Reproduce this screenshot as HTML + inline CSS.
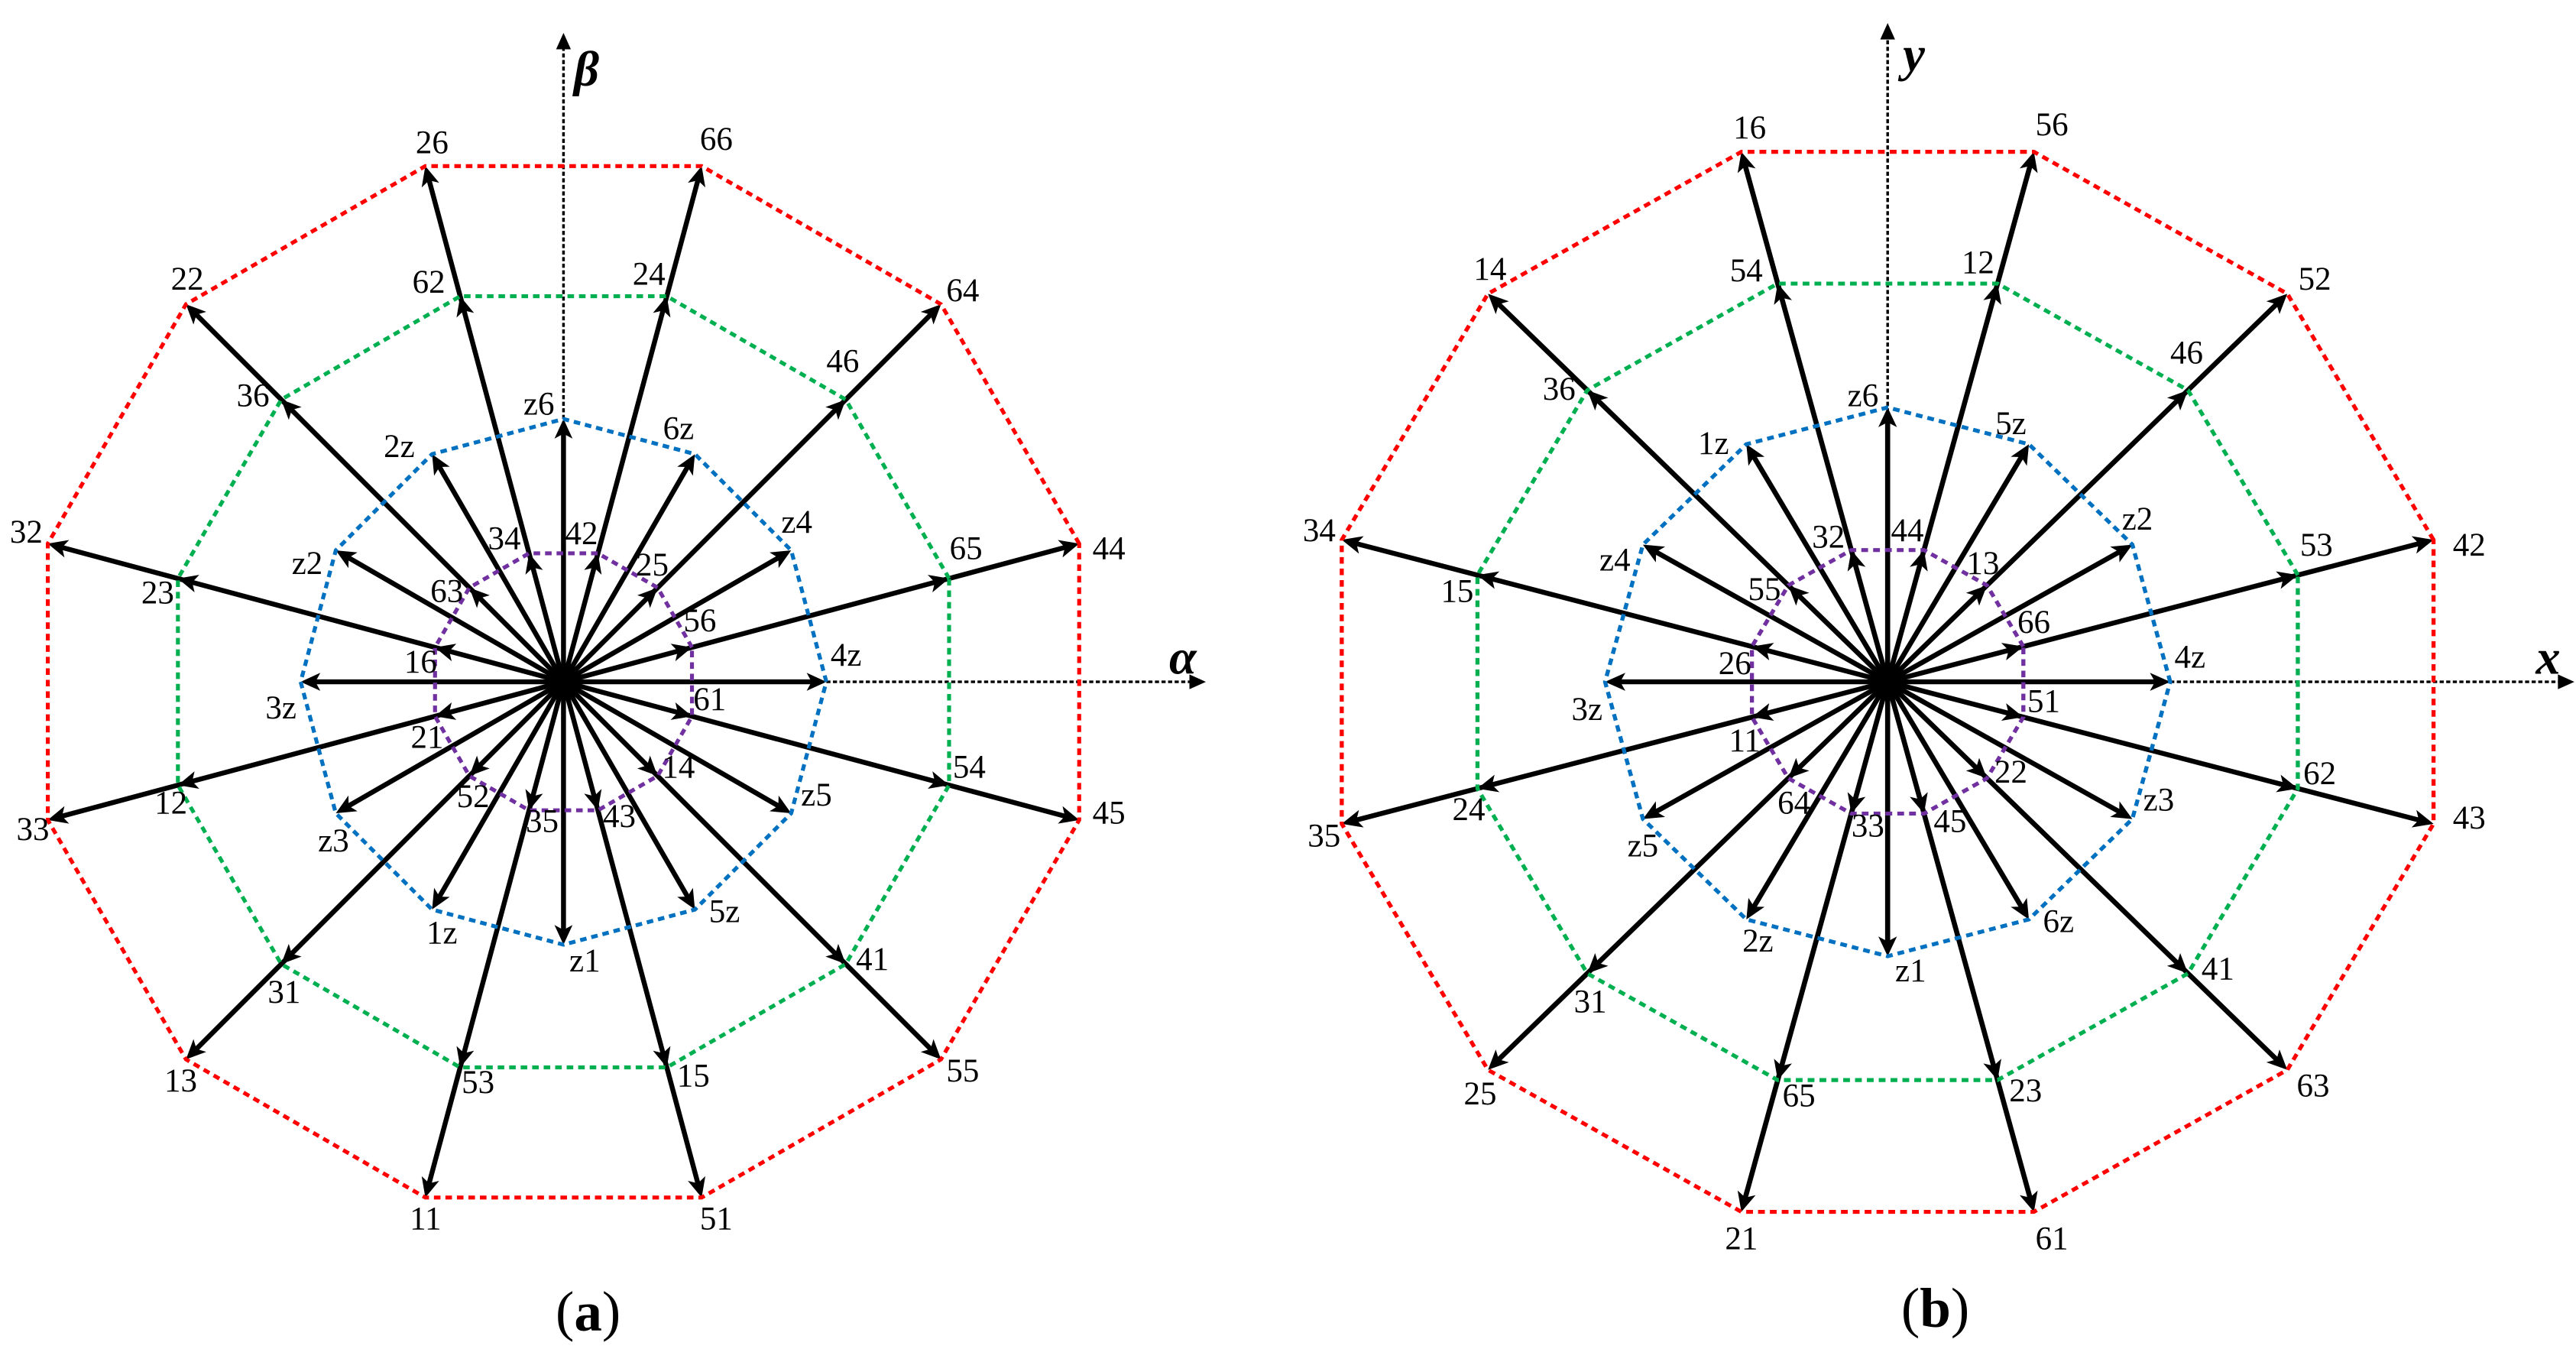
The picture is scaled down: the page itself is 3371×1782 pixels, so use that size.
<!DOCTYPE html>
<html><head><meta charset="utf-8"><style>
html,body{margin:0;padding:0;background:#fff}
svg{display:block}
text{font-family:"Liberation Serif",serif;font-size:20px;fill:#000}
.ax{font-weight:bold;font-style:italic;font-size:30px}
.cap{font-size:34px}
</style></head><body>
<svg width="3371" height="1782" viewBox="0 0 1568 829" preserveAspectRatio="none" xmlns="http://www.w3.org/2000/svg">
<defs>
<g id="la">
<line x1="0" y1="0" x2="319" y2="0" stroke="#000" stroke-width="3"/>
<path d="M325,0 l-12,-5.5 l3,5.5 l-3,5.5z"/>
<path d="M243,0 l-12,-5.5 l3,5.5 l-3,5.5z"/>
<path d="M81,0 l-12,-5.5 l3,5.5 l-3,5.5z"/>
</g>
<g id="sa">
<line x1="0" y1="0" x2="154" y2="0" stroke="#000" stroke-width="3"/>
<path d="M160,0 l-12,-5.5 l3,5.5 l-3,5.5z"/>
</g>
<g id="lb">
<line x1="0" y1="0" x2="328" y2="0" stroke="#000" stroke-width="3"/>
<path d="M334,0 l-12,-5.5 l3,5.5 l-3,5.5z"/>
<path d="M251,0 l-12,-5.5 l3,5.5 l-3,5.5z"/>
<path d="M83,0 l-12,-5.5 l3,5.5 l-3,5.5z"/>
</g>
<g id="sb">
<line x1="0" y1="0" x2="161" y2="0" stroke="#000" stroke-width="3"/>
<path d="M167,0 l-12,-5.5 l3,5.5 l-3,5.5z"/>
</g>
</defs>

<!-- ===== (a) ===== -->
<g>
<line x1="343" y1="415" x2="343" y2="28" stroke="#000" stroke-width="1.6" stroke-dasharray="2.5 1.5"/>
<path d="M343,20 l-4.5,10 l9,0z"/>
<line x1="343" y1="415" x2="725" y2="415" stroke="#000" stroke-width="1.6" stroke-dasharray="2.5 1.5"/>
<path d="M734,415 l-10,-4.5 l0,9z"/>
<g transform="translate(343,415)">
<use href="#la" transform="rotate(-15)"/><use href="#la" transform="rotate(-45)"/><use href="#la" transform="rotate(-75)"/>
<use href="#la" transform="rotate(-105)"/><use href="#la" transform="rotate(-135)"/><use href="#la" transform="rotate(-165)"/>
<use href="#la" transform="rotate(15)"/><use href="#la" transform="rotate(45)"/><use href="#la" transform="rotate(75)"/>
<use href="#la" transform="rotate(105)"/><use href="#la" transform="rotate(135)"/><use href="#la" transform="rotate(165)"/>
<use href="#sa" transform="rotate(0)"/><use href="#sa" transform="rotate(-30)"/><use href="#sa" transform="rotate(-60)"/>
<use href="#sa" transform="rotate(-90)"/><use href="#sa" transform="rotate(-120)"/><use href="#sa" transform="rotate(-150)"/>
<use href="#sa" transform="rotate(180)"/><use href="#sa" transform="rotate(30)"/><use href="#sa" transform="rotate(60)"/>
<use href="#sa" transform="rotate(90)"/><use href="#sa" transform="rotate(120)"/><use href="#sa" transform="rotate(150)"/>
<circle r="8" fill="#000"/>
<g fill="none" stroke-width="2.4" stroke-dasharray="4 3">
<polygon stroke="#ff0000" points="313.9,-84.1 229.8,-229.8 84.1,-313.9 -84.1,-313.9 -229.8,-229.8 -313.9,-84.1 -313.9,84.1 -229.8,229.8 -84.1,313.9 84.1,313.9 229.8,229.8 313.9,84.1"/>
<polygon stroke="#00b050" points="234.7,-62.9 171.8,-171.8 62.9,-234.7 -62.9,-234.7 -171.8,-171.8 -234.7,-62.9 -234.7,62.9 -171.8,171.8 -62.9,234.7 62.9,234.7 171.8,171.8 234.7,62.9"/>
<polygon stroke="#0070c0" points="160,0 138.6,-80 80,-138.6 0,-160 -80,-138.6 -138.6,-80 -160,0 -138.6,80 -80,138.6 0,160 80,138.6 138.6,80"/>
<polygon stroke="#7030a0" points="78.2,-21 57.3,-57.3 21,-78.2 -21,-78.2 -57.3,-57.3 -78.2,-21 -78.2,21 -57.3,57.3 -21,78.2 21,78.2 57.3,57.3 78.2,21"/>
</g>
</g>
<g text-anchor="middle" dominant-baseline="central">
<text x="263" y="87">26</text><text x="436" y="85">66</text><text x="114" y="170">22</text><text x="586" y="177">64</text>
<text x="261" y="172">62</text><text x="395" y="167">24</text><text x="154" y="241">36</text><text x="513" y="220">46</text>
<text x="328" y="246">z6</text><text x="243" y="272">2z</text><text x="413" y="261">6z</text>
<text x="16" y="324">32</text><text x="675" y="334">44</text><text x="588" y="334">65</text><text x="485" y="318">z4</text>
<text x="187" y="343">z2</text><text x="307" y="328">34</text><text x="354" y="325">42</text><text x="397" y="344">25</text>
<text x="272" y="360">63</text><text x="426" y="378">56</text><text x="96" y="361">23</text><text x="515" y="399">4z</text>
<text x="256" y="403">16</text><text x="171" y="431">3z</text><text x="432" y="426">61</text><text x="260" y="449">21</text>
<text x="413" y="467">14</text><text x="590" y="467">54</text><text x="497" y="484">z5</text><text x="104" y="489">12</text>
<text x="20" y="505">33</text><text x="675" y="495">45</text><text x="288" y="485">52</text><text x="330" y="500">35</text>
<text x="377" y="497">43</text><text x="203" y="512">z3</text><text x="269" y="568">1z</text><text x="441" y="555">5z</text>
<text x="356" y="585">z1</text><text x="173" y="604">31</text><text x="531" y="584">41</text><text x="110" y="658">13</text>
<text x="586" y="652">55</text><text x="291" y="659">53</text><text x="422" y="655">15</text><text x="259" y="742">11</text>
<text x="436" y="742">51</text>
<text class="ax" x="357" y="42">β</text><text class="ax" x="720" y="400">α</text>
<text class="cap" x="358" y="798">(<tspan font-weight="bold">a</tspan>)</text>
</g>
</g>

<!-- ===== (b) ===== -->
<g>
<line x1="1149" y1="415" x2="1149" y2="22" stroke="#000" stroke-width="1.6" stroke-dasharray="2.5 1.5"/>
<path d="M1149,14 l-4.5,10 l9,0z"/>
<line x1="1149" y1="415" x2="1558" y2="415" stroke="#000" stroke-width="1.6" stroke-dasharray="2.5 1.5"/>
<path d="M1567,415 l-10,-4.5 l0,9z"/>
<g transform="translate(1149,415) scale(1.03,1)">
<use href="#lb" transform="rotate(-15)"/><use href="#lb" transform="rotate(-45)"/><use href="#lb" transform="rotate(-75)"/>
<use href="#lb" transform="rotate(-105)"/><use href="#lb" transform="rotate(-135)"/><use href="#lb" transform="rotate(-165)"/>
<use href="#lb" transform="rotate(15)"/><use href="#lb" transform="rotate(45)"/><use href="#lb" transform="rotate(75)"/>
<use href="#lb" transform="rotate(105)"/><use href="#lb" transform="rotate(135)"/><use href="#lb" transform="rotate(165)"/>
<use href="#sb" transform="rotate(0)"/><use href="#sb" transform="rotate(-30)"/><use href="#sb" transform="rotate(-60)"/>
<use href="#sb" transform="rotate(-90)"/><use href="#sb" transform="rotate(-120)"/><use href="#sb" transform="rotate(-150)"/>
<use href="#sb" transform="rotate(180)"/><use href="#sb" transform="rotate(30)"/><use href="#sb" transform="rotate(60)"/>
<use href="#sb" transform="rotate(90)"/><use href="#sb" transform="rotate(120)"/><use href="#sb" transform="rotate(150)"/>
<circle r="8" fill="#000"/>
<g fill="none" stroke-width="2.4" stroke-dasharray="4 3">
<polygon stroke="#ff0000" points="322.6,-86.4 236.2,-236.2 86.4,-322.6 -86.4,-322.6 -236.2,-236.2 -322.6,-86.4 -322.6,86.4 -236.2,236.2 -86.4,322.6 86.4,322.6 236.2,236.2 322.6,86.4"/>
<polygon stroke="#00b050" points="242.4,-65 177.5,-177.5 65,-242.4 -65,-242.4 -177.5,-177.5 -242.4,-65 -242.4,65 -177.5,177.5 -65,242.4 65,242.4 177.5,177.5 242.4,65"/>
<polygon stroke="#0070c0" points="167,0 144.6,-83.5 83.5,-144.6 0,-167 -83.5,-144.6 -144.6,-83.5 -167,0 -144.6,83.5 -83.5,144.6 0,167 83.5,144.6 144.6,83.5"/>
<polygon stroke="#7030a0" points="80.2,-21.5 58.7,-58.7 21.5,-80.2 -21.5,-80.2 -58.7,-58.7 -80.2,-21.5 -80.2,21.5 -58.7,58.7 -21.5,80.2 21.5,80.2 58.7,58.7 80.2,21.5"/>
</g>
</g>
<g text-anchor="middle" dominant-baseline="central">
<text x="1065" y="78">16</text><text x="1249" y="76">56</text><text x="907" y="164">14</text><text x="1063" y="165">54</text>
<text x="1204" y="160">12</text><text x="1409" y="170">52</text><text x="949" y="237">36</text><text x="1331" y="215">46</text>
<text x="1134" y="241">z6</text><text x="1043" y="270">1z</text><text x="1224" y="258">5z</text><text x="803" y="323">34</text>
<text x="1301" y="316">z2</text><text x="1410" y="332">53</text><text x="1503" y="332">42</text><text x="1113" y="327">32</text>
<text x="1161" y="323">44</text><text x="1207" y="343">13</text><text x="983" y="341">z4</text><text x="887" y="360">15</text>
<text x="1074" y="359">55</text><text x="1238" y="379">66</text><text x="1333" y="400">4z</text><text x="1056" y="404">26</text>
<text x="966" y="432">3z</text><text x="1244" y="427">51</text><text x="1062" y="451">11</text><text x="1224" y="470">22</text>
<text x="1412" y="471">62</text><text x="1314" y="487">z3</text><text x="894" y="493">24</text><text x="1092" y="489">64</text>
<text x="806" y="509">35</text><text x="1503" y="498">43</text><text x="1137" y="503">33</text><text x="1187" y="500">45</text>
<text x="1000" y="515">z5</text><text x="1070" y="573">2z</text><text x="1253" y="561">6z</text><text x="1163" y="591">z1</text>
<text x="968" y="610">31</text><text x="1350" y="590">41</text><text x="901" y="666">25</text><text x="1408" y="661">63</text>
<text x="1095" y="667">65</text><text x="1233" y="664">23</text><text x="1060" y="754">21</text><text x="1249" y="754">61</text>
<text class="ax" x="1165" y="33">y</text><text class="ax" x="1551" y="400">x</text>
<text class="cap" x="1178" y="796">(<tspan font-weight="bold">b</tspan>)</text>
</g>
</g>
</svg>
</body></html>
